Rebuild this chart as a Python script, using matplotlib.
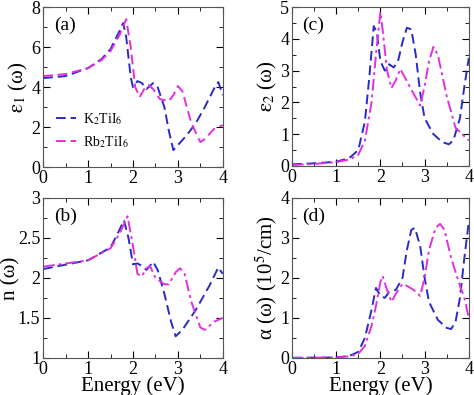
import numpy as np
import matplotlib
matplotlib.use('Agg')
import matplotlib.pyplot as plt
from matplotlib.ticker import MultipleLocator, FormatStrFormatter

plt.rcParams['font.family'] = ['Liberation Serif', 'DejaVu Serif']
plt.rcParams['mathtext.fontset'] = 'stix'

# ---- data ----
# (a) epsilon_1
e1_k_x = [0, 0.5, 1.0, 1.3, 1.5, 1.7, 1.78, 1.85, 1.95, 2.0, 2.1, 2.2, 2.3, 2.45, 2.55, 2.7, 2.8, 2.9, 3.0, 3.2, 3.4, 3.6, 3.8, 3.9, 4.0]
e1_k_y = [4.45, 4.55, 4.95, 5.4, 5.9, 6.8, 7.2, 6.5, 4.5, 4.0, 4.3, 4.2, 3.9, 4.2, 4.0, 3.0, 1.8, 0.85, 1.1, 1.6, 2.2, 3.0, 3.9, 4.25, 3.6]
e1_rb_x = [0, 0.5, 1.0, 1.3, 1.5, 1.7, 1.85, 1.95, 2.05, 2.15, 2.25, 2.35, 2.45, 2.6, 2.8, 2.9, 3.0, 3.1, 3.3, 3.5, 3.6, 3.8, 4.0]
e1_rb_y = [4.55, 4.65, 4.95, 5.35, 5.8, 6.6, 7.4, 6.0, 4.0, 3.5, 3.9, 4.1, 3.9, 3.4, 3.3, 3.6, 4.05, 3.8, 2.2, 1.25, 1.4, 1.9, 2.1]

# (b) n
n_k_x = [0, 1.0, 1.5, 1.7, 1.8, 1.9, 2.0, 2.1, 2.2, 2.3, 2.45, 2.55, 2.7, 2.85, 2.95, 3.1, 3.4, 3.7, 3.9, 4.0]
n_k_y = [2.11, 2.22, 2.38, 2.6, 2.72, 2.5, 2.17, 2.18, 2.15, 2.1, 2.2, 2.1, 1.8, 1.45, 1.27, 1.35, 1.6, 1.9, 2.13, 2.05]
n_rb_x = [0, 1.0, 1.5, 1.7, 1.88, 2.0, 2.1, 2.2, 2.3, 2.38, 2.5, 2.7, 2.8, 2.95, 3.05, 3.15, 3.3, 3.5, 3.6, 3.8, 4.0]
n_rb_y = [2.14, 2.22, 2.37, 2.55, 2.77, 2.4, 2.05, 2.02, 2.12, 2.15, 2.0, 1.92, 1.92, 2.07, 2.12, 2.05, 1.7, 1.38, 1.35, 1.45, 1.5]

# (c) epsilon_2
e2_k_x = [0, 0.5, 1.0, 1.3, 1.5, 1.65, 1.75, 1.85, 1.92, 2.0, 2.1, 2.2, 2.3, 2.4, 2.5, 2.6, 2.7, 2.8, 2.9, 3.0, 3.2, 3.4, 3.55, 3.65, 3.8, 3.9, 4.0]
e2_k_y = [0.05, 0.08, 0.13, 0.25, 0.5, 1.4, 2.8, 4.4, 4.2, 3.3, 3.0, 3.2, 3.1, 3.3, 3.9, 4.35, 4.3, 3.5, 2.3, 1.5, 1.0, 0.75, 0.68, 0.8, 1.5, 2.5, 3.4]
e2_rb_x = [0, 0.5, 1.0, 1.3, 1.5, 1.65, 1.8, 1.9, 2.0, 2.05, 2.15, 2.25, 2.35, 2.45, 2.55, 2.7, 2.9, 3.0, 3.1, 3.2, 3.3, 3.5, 3.7, 3.85, 4.0]
e2_rb_y = [0.03, 0.06, 0.12, 0.2, 0.35, 0.8, 2.0, 3.5, 4.85, 4.3, 3.0, 2.45, 2.7, 3.05, 2.8, 2.4, 1.9, 2.5, 3.3, 3.75, 3.5, 2.2, 1.2, 1.0, 0.8]

# (d) alpha (10^5/cm)
al_k_x = [0, 1.0, 1.3, 1.5, 1.65, 1.8, 1.9, 2.0, 2.1, 2.2, 2.35, 2.5, 2.6, 2.7, 2.78, 2.9, 3.0, 3.1, 3.3, 3.5, 3.6, 3.7, 3.8, 3.9, 4.0]
al_k_y = [0, 0.01, 0.05, 0.15, 0.5, 1.2, 1.75, 1.55, 1.5, 1.65, 1.7, 2.0, 2.7, 3.2, 3.25, 2.8, 2.0, 1.4, 0.95, 0.75, 0.72, 0.9, 1.5, 2.5, 3.4]
al_rb_x = [0, 1.0, 1.3, 1.5, 1.65, 1.8, 1.9, 2.0, 2.05, 2.15, 2.25, 2.35, 2.5, 2.6, 2.75, 2.9, 3.0, 3.1, 3.25, 3.35, 3.45, 3.6, 3.8, 3.9, 4.0]
al_rb_y = [0, 0.01, 0.04, 0.1, 0.3, 0.8, 1.3, 1.9, 2.05, 1.7, 1.4, 1.6, 1.85, 1.8, 1.7, 1.55, 2.0, 2.7, 3.25, 3.35, 3.2, 2.5, 1.8, 1.5, 1.0]

blue = '#2a2ac8'
magenta = '#e030e0'

fig = plt.figure(figsize=(4.74, 3.95), dpi=100)
axa = fig.add_axes([0.091, 0.577, 0.379, 0.405])
axb = fig.add_axes([0.091, 0.094, 0.379, 0.405])
axc = fig.add_axes([0.616, 0.580, 0.373, 0.402])
axd = fig.add_axes([0.616, 0.094, 0.373, 0.405])

panels = [
    (axa, e1_k_x, e1_k_y, e1_rb_x, e1_rb_y, (0, 8), 2, 1, r'$\mathrm{\varepsilon}_1$ (ω)', '(a)'),
    (axb, n_k_x, n_k_y, n_rb_x, n_rb_y, (1, 3), 0.5, 0.25, 'n (ω)', '(b)'),
    (axc, e2_k_x, e2_k_y, e2_rb_x, e2_rb_y, (0, 5), 1, 0.5, r'$\mathrm{\varepsilon}_2$ (ω)', '(c)'),
    (axd, al_k_x, al_k_y, al_rb_x, al_rb_y, (0, 4), 1, 0.5, r'α (ω) (10$^5$/cm)', '(d)'),
]

for ax, kx, ky, rx, ry, ylim, ymaj, ymin, ylab, tag in panels:
    ax.plot(kx, ky, color=blue, lw=1.4, ls=(0, (5, 2.5)), label=r'K$_2$TiI$_6$')
    rb_ls = (0, (5, 2.5)) if ax is axa else (0, (6, 2, 1.5, 2))
    ax.plot(rx, ry, color=magenta, lw=1.4, ls=rb_ls, label=r'Rb$_2$TiI$_6$')
    ax.set_xlim(0, 4)
    ax.set_ylim(*ylim)
    ax.xaxis.set_major_locator(MultipleLocator(1))
    ax.xaxis.set_minor_locator(MultipleLocator(0.5))
    ax.yaxis.set_major_locator(MultipleLocator(ymaj))
    ax.yaxis.set_minor_locator(MultipleLocator(ymin))
    ax.yaxis.set_major_formatter(FormatStrFormatter('%g'))
    ax.tick_params(which='both', direction='in', top=True, right=True, labelsize=13, pad=2)
    ax.tick_params(which='major', length=5)
    ax.tick_params(which='minor', length=3)
    ax.set_ylabel(ylab, fontsize=15, labelpad=1)
    ax.text(0.06, 0.94, tag, transform=ax.transAxes, fontsize=14, va='top', ha='left')
    for s in ax.spines.values():
        s.set_color('#555555')

# keep the n label inside the figure, right next to its tick labels
axb.yaxis.set_label_coords(-0.125, 0.5)

axb.set_xlabel('Energy (eV)', fontsize=15, labelpad=-1)
axd.set_xlabel('Energy (eV)', fontsize=15, labelpad=-1)

axa.legend(loc='center left', bbox_to_anchor=(0.0, 0.23), frameon=False, fontsize=10,
           handlelength=1.5, handletextpad=0.5, labelspacing=0.5)

fig.savefig('out.png', dpi=100)
